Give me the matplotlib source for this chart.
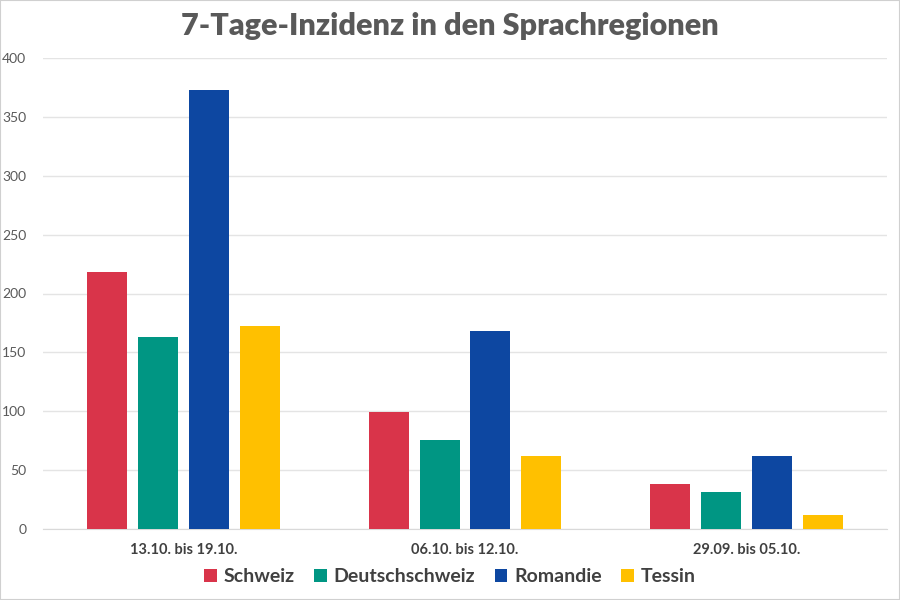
import numpy as np
from matplotlib import pyplot as plt

plt.rcParams['font.family'] = ['Lato', 'DejaVu Sans']

weeks = ["13.10. bis 19.10.", "06.10. bis 12.10.", "29.09. bis 05.10."]
regions = ["Schweiz", "Deutschschweiz", "Romandie", "Tessin"]
schweiz = [218, 99, 38]
deutschschweiz = [163, 76, 31]
romandie = [373, 168, 62]
tessin = [172, 62, 12]
values = [schweiz, deutschschweiz, romandie, tessin]
colors = ["#D9344A", "#009683", "#0D47A1", "#FFC000"]

fig = plt.figure(figsize=(9, 6), dpi=100)
ax = fig.add_axes([43/900, 71/600, 844/900, 471/600])

x = np.arange(len(weeks))
width = 0.142
step = 0.181
for i, (name, vals, col) in enumerate(zip(regions, values, colors)):
    ax.bar(x + (i - 1.5) * step, vals, width, color=col, label=name, zorder=3)

ax.set_xlim(-0.5, 2.5)
ax.set_ylim(0, 400)
ax.set_yticks(range(0, 401, 50))
ax.yaxis.grid(True, color="#E4E4E4", linewidth=1, zorder=0)
for s in ["top", "right", "left"]:
    ax.spines[s].set_visible(False)
ax.spines["bottom"].set_color("#D9D9D9")
ax.tick_params(axis="y", length=0, colors="#595959", labelsize=10, pad=12)
ax.tick_params(axis="x", length=0, colors="#404040", labelsize=10.5, pad=10)
ax.set_xticks(x)
ax.set_xticklabels(weeks, fontweight="bold")

fig.text(0.5, 574/600, "7-Tage-Inzidenz in den Sprachregionen", ha="center", va="center",
         fontsize=22, fontweight="heavy", color="#595959")

leg = fig.legend(loc="center", bbox_to_anchor=(0.5, 23/600), ncol=4, frameon=False,
                 handlelength=0.65, handleheight=0.65, handletextpad=0.35, columnspacing=1.0,
                 prop={"weight": "bold", "size": 14})
for t in leg.get_texts():
    t.set_color("#404040")

fig.patches.append(plt.Rectangle((0, 0), 1, 1, transform=fig.transFigure,
                                 fill=False, edgecolor="#D0D0D0", linewidth=1.5))

plt.savefig("out.png", dpi=100)
